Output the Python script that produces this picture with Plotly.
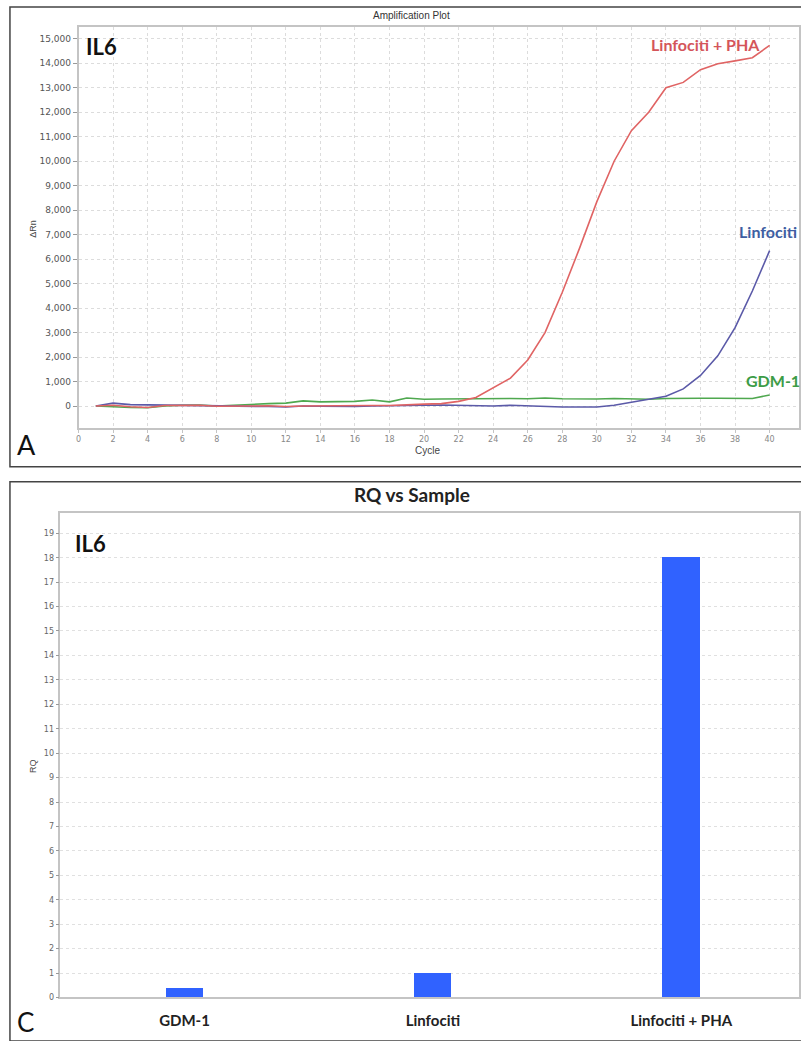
import plotly.graph_objects as go

W, H = 801, 1041

# ---------------- data ----------------
cycles = list(range(1, 41))
pha = [0, 30, -30, -60, 20, 30, 30, -10, 10, 0, 10, -20, 0, 10, -10, 10, 20, 20, 60, 80,
       100, 190, 350, 730, 1140, 1880, 3000, 4650, 6450, 8350, 10000, 11250, 12000, 13000, 13220,
       13740, 13980, 14100, 14230, 14730]
linfo = [0, 120, 60, 50, 40, 40, 30, 20, 20, 20, -20, -40, 0, -10, -30, -20, 0, 0, 10, 30,
         40, 20, 30, 0, 30, 0, -30, -40, -40, -40, 30, 150, 250, 400, 700, 1250, 2050, 3200, 4700, 6350]
gdm = [0, -40, -60, -70, 0, 30, 40, 0, 40, 70, 100, 120, 210, 170, 170, 190, 250, 170, 330, 280,
       290, 300, 280, 320, 310, 300, 330, 300, 290, 290, 310, 300, 280, 310, 300, 320, 320, 330, 310, 450]

samples = ["GDM-1", "Linfociti", "Linfociti + PHA"]
rq = [0.37, 1.0, 18.0]

x_ticks = list(range(0, 41, 2))
y_ticks = list(range(0, 15001, 1000))
rq_ticks = list(range(0, 20))


def px(x):
    return x / W


def py(y):
    return 1 - y / H


fig = go.Figure()

fig.add_trace(go.Scatter(x=cycles, y=gdm, mode="lines", line=dict(color="#4fa84f", width=1.6),
                         xaxis="x", yaxis="y", showlegend=False))
fig.add_trace(go.Scatter(x=cycles, y=linfo, mode="lines", line=dict(color="#5b5aa8", width=1.6),
                         xaxis="x", yaxis="y", showlegend=False))
fig.add_trace(go.Scatter(x=cycles, y=pha, mode="lines", line=dict(color="#e06464", width=1.6),
                         xaxis="x", yaxis="y", showlegend=False))

fig.add_trace(go.Bar(x=samples, y=rq, width=0.15, marker=dict(color="#3062ff", line=dict(width=0)),
                     xaxis="x2", yaxis="y2", showlegend=False))

tickfont_small = dict(family="DejaVu Sans", size=9, color="#555")

fig.update_layout(
    width=W, height=H,
    margin=dict(l=0, r=0, t=0, b=0),
    paper_bgcolor="white", plot_bgcolor="white",
    xaxis=dict(domain=[px(76), 1.0], range=[0, 41.7], tickvals=x_ticks, anchor="y",
               tickfont=dict(family="DejaVu Sans", size=8, color="#888"),
               showgrid=True, gridcolor="#dcdcdc", griddash="dot", gridwidth=1,
               showline=True, linecolor="#c4c4c4", linewidth=1.5, mirror=True,
               ticks="outside", ticklen=3, tickcolor="#c4c4c4", zeroline=False),
    yaxis=dict(domain=[py(430), py(27)], range=[-894, 15488], tickvals=y_ticks, anchor="x",
               tickformat=",", tickfont=tickfont_small,
               showgrid=True, gridcolor="#dcdcdc", griddash="dot", gridwidth=1,
               showline=True, linecolor="#c4c4c4", linewidth=1.5, mirror=True,
               ticks="outside", ticklen=4, tickcolor="#999", zeroline=False),
    xaxis2=dict(domain=[px(57.7), 1.0], range=[-0.5, 2.474], type="category", anchor="y2",
                tickfont=dict(family="Lato", size=15, color="#222", weight="bold"),
                showgrid=False, showline=True, linecolor="#c4c4c4", linewidth=1.5, mirror=True,
                ticks="outside", ticklen=9, tickcolor="rgba(0,0,0,0)", zeroline=False),
    yaxis2=dict(domain=[py(1002.3), py(515.7)], range=[0, 19.82], tickvals=rq_ticks, anchor="x2",
                tickfont=dict(family="DejaVu Sans", size=8, color="#666"),
                showgrid=True, gridcolor="#e0e0e0", griddash="dot", gridwidth=1,
                showline=True, linecolor="#c4c4c4", linewidth=1.5, mirror=True,
                ticks="outside", ticklen=3, tickcolor="#999", zeroline=False),
    bargap=0,
)

ann = []


def add(text, x, y, size, color="#111", family="Lato", bold=False, xanchor="center", yanchor="middle",
        angle=0):
    ann.append(dict(text=text, x=px(x), y=py(y), xref="paper", yref="paper", showarrow=False,
                    xanchor=xanchor, yanchor=yanchor, textangle=angle,
                    font=dict(family=family, size=size, color=color, weight="bold" if bold else "normal")))


add("Amplification Plot", 411, 15.5, 10, color="#333", family="Liberation Sans")
add("IL6", 82, 47, 22, bold=True, xanchor="left")
add("A", 12, 447, 27, xanchor="left")
add("ΔRn", 30, 230, 9, color="#444", family="Liberation Sans", angle=-90)
add("Cycle", 427, 453, 10, color="#444", family="Liberation Sans")
add("Linfociti + PHA", 650, 45, 16, color="#d4555a", bold=True, xanchor="left")
add("Linfociti", 739, 233, 16, color="#3e5ea2", bold=True, xanchor="left")
add("GDM-1", 746, 382, 16, color="#3c9c46", bold=True, xanchor="left")

add("RQ vs Sample", 412, 497, 19, color="#222", bold=True)
add("IL6", 70, 546, 22, bold=True, xanchor="left")
add("RQ", 30, 770, 9, color="#444", family="Liberation Sans", angle=-90)
add("C", 12, 1027, 26, xanchor="left")

fig.update_layout(annotations=ann)

shapes = [
    dict(type="rect", xref="paper", yref="paper", x0=px(7), y0=py(7), x1=px(806), y1=py(469),
         line=dict(color="#444", width=1.5)),
    dict(type="rect", xref="paper", yref="paper", x0=px(7), y0=py(484), x1=px(806), y1=py(1046),
         line=dict(color="#444", width=1.5)),
]
fig.update_layout(shapes=shapes)

fig.write_html("out.html")
